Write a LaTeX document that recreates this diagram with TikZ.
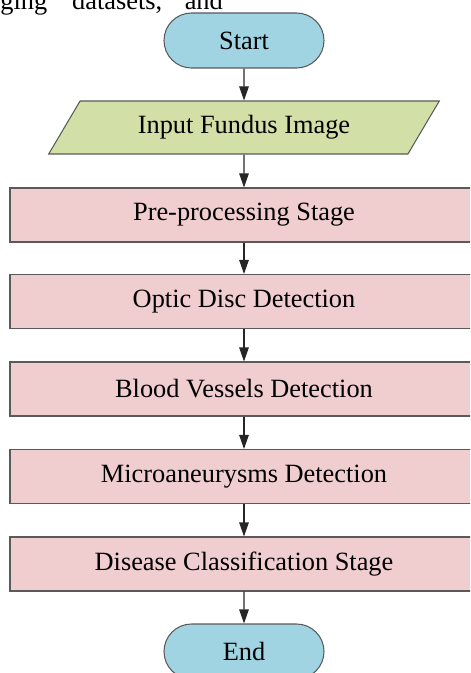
\documentclass[tikz,border=0pt]{standalone}
\usepackage{fontspec}
\setmainfont{Liberation Serif}
\usetikzlibrary{shapes.geometric,shapes.misc,arrows.meta}

\definecolor{termblue}{HTML}{A0D4E2}
\definecolor{iogreen}{HTML}{D2E0A8}
\definecolor{stagepink}{HTML}{F0CDCF}
\definecolor{edgegray}{HTML}{5A5A5A}

\begin{document}
\begin{tikzpicture}[
    >={Triangle[length=2.8mm, width=1.9mm]},
    every node/.style={font=\fontsize{15}{18}\selectfont},
    term/.style={draw=edgegray, fill=termblue, line width=0.6pt, rounded rectangle,
                 minimum width=3.2cm, minimum height=1.1cm, inner sep=0pt},
    io/.style={draw=edgegray, fill=iogreen, line width=0.6pt, trapezium,
               trapezium left angle=59, trapezium right angle=121,
               trapezium stretches=true, minimum width=7.82cm, minimum height=1.06cm},
    stage/.style={draw=edgegray, fill=stagepink, line width=0.6pt,
                  minimum width=9.36cm, minimum height=1.08cm},
    flow/.style={->, draw=black!85, line width=0.6pt}]

  \useasboundingbox (0,0) rectangle (9.4,-13.46);
  \clip (0,0) rectangle (9.4,-13.46);

  % tail of the running text above the figure
  \node[anchor=base west, inner sep=0pt] (prev) at (0,-0.2)
    {ging\hspace{0.5cm}datasets,\hspace{0.45cm}and};

  \node[term]  (start)    at (4.88,-0.81)  {Start};
  \node[io]    (input)    at (4.88,-2.55)  {Input Fundus Image};
  \node[stage] (prep)     at (4.88,-4.30)  {Pre-processing Stage};
  \node[stage] (optic)    at (4.88,-6.03)  {Optic Disc Detection};
  \node[stage] (vessel)   at (4.88,-7.78)  {Blood Vessels Detection};
  \node[stage] (micro)    at (4.88,-9.53)  {Microaneurysms Detection};
  \node[stage] (classify) at (4.88,-11.28) {Disease Classification Stage};
  \node[term]  (finish)   at (4.88,-13.03) {End};

  \draw[flow] (start) -- (input);
  \draw[flow] (input) -- (prep);
  \draw[flow] (prep) -- (optic);
  \draw[flow] (optic) -- (vessel);
  \draw[flow] (vessel) -- (micro);
  \draw[flow] (micro) -- (classify);
  \draw[flow] (classify) -- (finish);
\end{tikzpicture}
\end{document}
